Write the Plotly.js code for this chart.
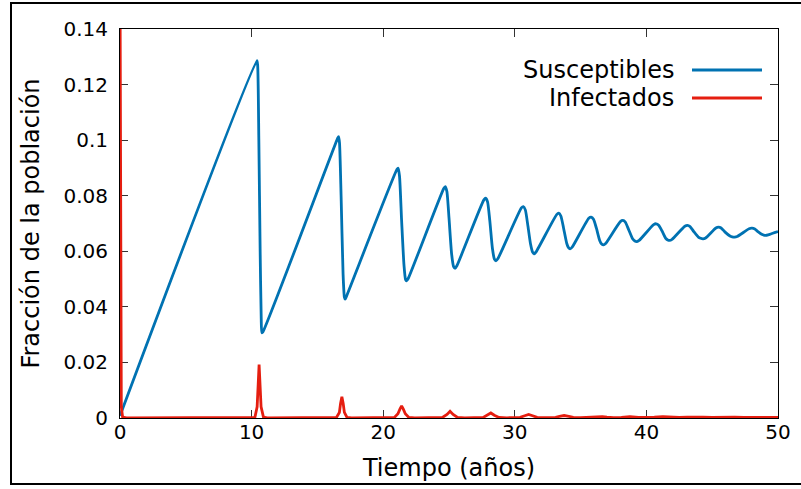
<!DOCTYPE html>
<html>
<head>
<meta charset="utf-8">
<script src="https://cdn.plot.ly/plotly-3.0.1.min.js"></script>
<style>html,body{margin:0;padding:0;background:#fff;}#chart{width:801px;height:489px;}</style>
</head>
<body>
<div id="chart"></div>
<script>
// Susceptibles (time in years, fraction of population)
var susT = [0, 10.40, 10.46, 10.55, 10.65, 10.73, 10.78, 10.86,
  16.55, 16.61, 16.68, 16.80, 16.95, 17.05, 17.11, 17.20,
  21.05, 21.14, 21.24, 21.40, 21.58, 21.70, 21.78, 21.90,
  24.60, 24.72, 24.84, 25.00, 25.20, 25.35, 25.46, 25.60,
  27.65, 27.79, 27.93, 28.10, 28.30, 28.45, 28.57, 28.72,
  30.50, 30.65, 30.80, 31.00, 31.20, 31.35, 31.47, 31.62,
  33.18, 33.34, 33.50, 33.70, 33.95, 34.08, 34.20, 34.36,
  35.62, 35.80, 35.98, 36.20, 36.45, 36.60, 36.74, 36.90,
  38.02, 38.21, 38.40, 38.65, 38.95, 39.12, 39.28, 39.45,
  40.55, 40.74, 40.93, 41.20, 41.48, 41.62, 41.76, 41.95,
  42.92, 43.12, 43.32, 43.60, 43.95, 44.12, 44.30, 44.50,
  45.28, 45.48, 45.68, 45.98, 46.35, 46.52, 46.70, 46.90,
  47.80, 48.02, 48.24, 48.50, 48.80, 48.92, 49.06, 49.25,
  49.60, 50.00];
var susV = [0.0008, 0.1286, 0.1270, 0.1000, 0.0600, 0.0360, 0.0307, 0.0310,
  0.1008, 0.1013, 0.0990, 0.0800, 0.0520, 0.0435, 0.0428, 0.0437,
  0.0895, 0.0899, 0.0870, 0.0710, 0.0550, 0.0498, 0.0494, 0.0502,
  0.0826, 0.0833, 0.0815, 0.0720, 0.0590, 0.0545, 0.0539, 0.0548,
  0.0785, 0.0791, 0.0778, 0.0710, 0.0610, 0.0572, 0.0566, 0.0574,
  0.0756, 0.0761, 0.0749, 0.0690, 0.0625, 0.0597, 0.0591, 0.0598,
  0.0732, 0.0737, 0.0727, 0.0685, 0.0628, 0.0613, 0.0609, 0.0615,
  0.0719, 0.0723, 0.0715, 0.0683, 0.0639, 0.0626, 0.0623, 0.0628,
  0.0707, 0.0711, 0.0705, 0.0678, 0.0645, 0.0637, 0.0635, 0.0639,
  0.0696, 0.0699, 0.0694, 0.0672, 0.0646, 0.0641, 0.0639, 0.0643,
  0.0690, 0.0693, 0.0689, 0.0671, 0.0651, 0.0647, 0.0645, 0.0648,
  0.0684, 0.0687, 0.0684, 0.0669, 0.0655, 0.0652, 0.0651, 0.0653,
  0.0681, 0.0683, 0.0680, 0.0670, 0.0660, 0.0658, 0.0657, 0.0659,
  0.0665, 0.0671];

// Infectados
var infT = [0, 0.03, 0.06, 0.10, 0.20, 0.50,
  10.25, 10.42, 10.50, 10.57, 10.64, 10.72, 10.90, 11.20,
  16.45, 16.67, 16.76, 16.86, 16.96, 17.05, 17.25, 17.60,
  20.85, 21.12, 21.27, 21.40, 21.53, 21.68, 21.95, 22.40,
  24.50, 24.85, 25.08, 25.31, 25.65, 26.20,
  27.60, 27.92, 28.18, 28.44, 28.80, 29.40,
  30.40, 30.75, 31.05, 31.35, 31.70, 32.30,
  33.10, 33.40, 33.75, 34.10, 34.45, 35.00,
  35.60, 35.95, 36.30, 36.65, 37.00, 37.50,
  38.10, 38.75, 39.40, 40.00,
  40.60, 41.25, 41.90, 42.50,
  43.10, 43.70, 44.30, 45.00,
  45.50, 46.10, 46.70, 47.40,
  48.00, 48.55, 49.10, 50.00];
var infV = [0.16, 0.07, 0.02, 0.004, 0.0003, 0.00002,
  0.0002, 0.004, 0.012, 0.0192, 0.012, 0.004, 0.0003, 0.00002,
  0.0002, 0.002, 0.0052, 0.0076, 0.0052, 0.002, 0.0002, 0.00003,
  0.0002, 0.0015, 0.0032, 0.0043, 0.0032, 0.0015, 0.0002, 0.00004,
  0.0002, 0.0013, 0.0024, 0.0013, 0.0002, 0.00005,
  0.0002, 0.0010, 0.0018, 0.0010, 0.0002, 0.00007,
  0.00025, 0.0008, 0.0013, 0.0008, 0.00025, 0.0001,
  0.0002, 0.0006, 0.0009, 0.0006, 0.00025, 0.00012,
  0.00025, 0.0005, 0.00065, 0.0005, 0.0003, 0.00015,
  0.00025, 0.0005, 0.00025, 0.00018,
  0.0003, 0.00045, 0.0003, 0.0002,
  0.0003, 0.0004, 0.0003, 0.00022,
  0.0003, 0.00036, 0.0003, 0.00024,
  0.0003, 0.00034, 0.0003, 0.00026];

var seriesNames = ['Susceptibles', 'Infectados'];
var blue = '#0072b2', red = '#e51e10';
var font = 'DejaVu Sans, sans-serif';

var traces = [
  {x: susT, y: susV, type: 'scatter', mode: 'lines', name: seriesNames[0],
   line: {color: blue, width: 2.8, shape: 'spline', smoothing: 0.6}},
  {x: infT, y: infV, type: 'scatter', mode: 'lines', name: seriesNames[1],
   line: {color: red, width: 2.8}}
];

function px2x(p) { return (p - 120) / 658; }
function px2y(p) { return (418 - p) / 389; }

var layout = {
  width: 801, height: 489,
  margin: {l: 120, r: 23, t: 29, b: 71, pad: 0},
  paper_bgcolor: '#fff', plot_bgcolor: '#fff',
  showlegend: false,
  font: {family: font, color: '#000', size: 20},
  xaxis: {
    range: [0, 50], dtick: 10, tick0: 0,
    ticks: 'inside', ticklen: 8, tickwidth: 1, tickcolor: '#333',
    showline: true, linecolor: '#000', linewidth: 1, mirror: 'ticks',
    showgrid: false, zeroline: false, layer: 'below traces',
    tickfont: {family: font, size: 20, color: '#000'},
    ticklabelstandoff: -4,
    title: {text: 'Tiempo (años)', font: {family: font, size: 24, color: '#000'}, standoff: 16}
  },
  yaxis: {
    range: [0, 0.14], dtick: 0.02, tick0: 0,
    ticks: 'inside', ticklen: 8, tickwidth: 1, tickcolor: '#333',
    showline: true, linecolor: '#000', linewidth: 1, mirror: 'ticks',
    showgrid: false, zeroline: false, layer: 'below traces',
    tickfont: {family: font, size: 20, color: '#000'},
    ticklabelstandoff: 7,
    title: {text: 'Fracción de la población', font: {family: font, size: 24, color: '#000'}, standoff: 17}
  },
  shapes: [
    {type: 'rect', xref: 'paper', yref: 'paper',
     x0: px2x(11), x1: px2x(812), y0: px2y(484), y1: px2y(3),
     line: {color: '#000', width: 2}, fillcolor: 'rgba(0,0,0,0)', layer: 'above'},
    {type: 'line', xref: 'paper', yref: 'paper',
     x0: px2x(692), x1: px2x(762), y0: px2y(70), y1: px2y(70),
     line: {color: blue, width: 2.8}},
    {type: 'line', xref: 'paper', yref: 'paper',
     x0: px2x(692), x1: px2x(762), y0: px2y(98), y1: px2y(98),
     line: {color: red, width: 2.8}}
  ],
  annotations: [
    {xref: 'paper', yref: 'paper', x: px2x(676), y: px2y(70), xanchor: 'right', yanchor: 'middle',
     text: seriesNames[0], showarrow: false, font: {family: font, size: 24, color: '#000'}},
    {xref: 'paper', yref: 'paper', x: px2x(676), y: px2y(98), xanchor: 'right', yanchor: 'middle',
     text: seriesNames[1], showarrow: false, font: {family: font, size: 24, color: '#000'}}
  ]
};

Plotly.newPlot('chart', traces, layout, {displayModeBar: false, staticPlot: true});
</script>
</body>
</html>
